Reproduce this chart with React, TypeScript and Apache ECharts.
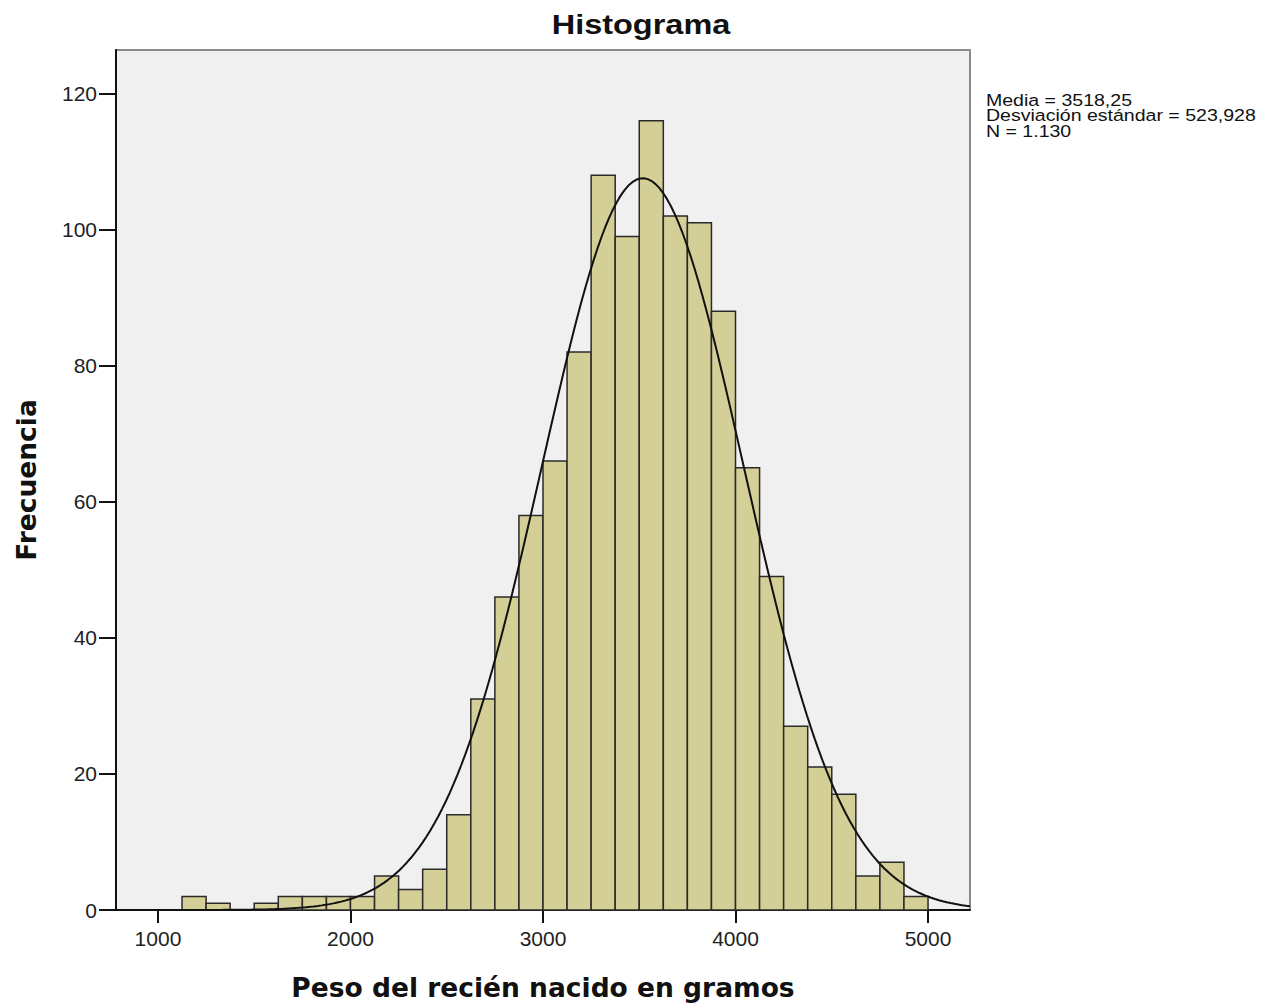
import React, { useEffect, useRef } from "react";
import * as echarts from "echarts";

// Histogram bins (grams) and frequencies
const binStarts = [1125, 1250, 1375, 1500, 1625, 1750, 1875, 2000, 2125, 2250, 2375, 2500, 2625, 2750, 2875, 3000, 3125, 3250, 3375, 3500, 3625, 3750, 3875, 4000, 4125, 4250, 4375, 4500, 4625, 4750, 4875];
const binEnds = [1250, 1375, 1500, 1625, 1750, 1875, 2000, 2125, 2250, 2375, 2500, 2625, 2750, 2875, 3000, 3125, 3250, 3375, 3500, 3625, 3750, 3875, 4000, 4125, 4250, 4375, 4500, 4625, 4750, 4875, 5000];
const counts = [2, 1, 0, 1, 2, 2, 2, 2, 5, 3, 6, 14, 31, 46, 58, 66, 82, 108, 99, 116, 102, 101, 88, 65, 49, 27, 21, 17, 5, 7, 2];

// Summary statistics shown on the chart
const MEAN = 3518.25;
const SD = 523.928;
const N = 1130;
const BIN_WIDTH = 125;

const xTicks = [1000, 2000, 3000, 4000, 5000];
const yTicks = [0, 20, 40, 60, 80, 100, 120];
const X_MIN = 782;
const X_MAX = 5218;
const Y_MAX = 126.4;

const statsLines = ["Media = 3518,25", "Desviación estándar = 523,928", "N = 1.130"];

function normalCurve(): number[][] {
  const pts: number[][] = [];
  const steps = 220;
  for (let i = 0; i <= steps; i++) {
    const x = X_MIN + ((X_MAX - X_MIN) * i) / steps;
    const z = (x - MEAN) / SD;
    const y = (N * BIN_WIDTH) / (SD * Math.sqrt(2 * Math.PI)) * Math.exp(-0.5 * z * z);
    pts.push([x, y]);
  }
  return pts;
}

export default function App() {
  const ref = useRef<HTMLDivElement>(null);
  useEffect(() => {
    if (!ref.current) return;
    const chart = echarts.init(ref.current, undefined, { renderer: "svg" });
    const histData = binStarts
      .map((s, i) => [s, binEnds[i], counts[i]])
      .filter((d) => d[2] > 0);
    const option: any = {
      animation: false,
      backgroundColor: "#ffffff",
      grid: {
        left: 116,
        right: 302,
        top: 50,
        bottom: 94,
        show: true,
        backgroundColor: "#F0F0F0",
        borderColor: "#8a8a8a",
        borderWidth: 2,
      },
      graphic: [
        {
          type: "text",
          x: 641,
          y: 24,
          scaleX: 1.16,
          style: {
            text: "Histograma",
            fontFamily: "Liberation Sans, Arial, sans-serif",
            fontWeight: "bold",
            fontSize: 28,
            fill: "#111",
            align: "center",
            verticalAlign: "middle",
          },
        },
        {
          type: "text",
          x: 986,
          y: 92,
          scaleX: 1.15,
          style: {
            text: statsLines.join("\n"),
            fontFamily: "Liberation Sans, Arial, sans-serif",
            fontSize: 17,
            lineHeight: 15.5,
            fill: "#111",
            align: "left",
            verticalAlign: "top",
          },
        },
      ],
      xAxis: {
        type: "value",
        min: X_MIN,
        max: X_MAX,
        name: "Peso del recién nacido en gramos",
        nameLocation: "middle",
        nameGap: 64,
        nameTextStyle: {
          fontFamily: "DejaVu Sans",
          fontWeight: "bold",
          fontSize: 26.5,
          color: "#111",
        },
        splitLine: { show: false },
        axisLine: { show: true, lineStyle: { color: "#111", width: 2 } },
        axisTick: {
          show: true,
          length: 13,
          lineStyle: { color: "#111", width: 2 },
          customValues: xTicks,
        },
        axisLabel: {
          customValues: xTicks,
          formatter: (v: number) => String(v),
          margin: 18,
          fontFamily: "Liberation Sans, Arial, sans-serif",
          fontSize: 21,
          color: "#222",
        },
      },
      yAxis: {
        type: "value",
        min: 0,
        max: Y_MAX,
        name: "Frecuencia",
        nameLocation: "middle",
        nameGap: 76,
        nameTextStyle: {
          fontFamily: "DejaVu Sans",
          fontWeight: "bold",
          fontSize: 26.5,
          color: "#111",
        },
        splitLine: { show: false },
        axisLine: { show: true, lineStyle: { color: "#111", width: 2 } },
        axisTick: {
          show: true,
          length: 17,
          lineStyle: { color: "#111", width: 2 },
          customValues: yTicks,
        },
        axisLabel: {
          customValues: yTicks,
          formatter: (v: number) => String(v),
          margin: 19,
          fontFamily: "Liberation Sans, Arial, sans-serif",
          fontSize: 21,
          color: "#222",
        },
      },
      series: [
        {
          type: "custom",
          renderItem: (params: any, api: any) => {
            const p0 = api.coord([api.value(0), api.value(2)]);
            const p1 = api.coord([api.value(1), 0]);
            return {
              type: "rect",
              shape: { x: p0[0], y: p0[1], width: p1[0] - p0[0], height: p1[1] - p0[1] },
              style: { fill: "#D3CF97", stroke: "#2a2a2a", lineWidth: 1.5 },
            };
          },
          encode: { x: [0, 1], y: 2 },
          data: histData,
          z: 2,
        },
        {
          type: "line",
          data: normalCurve(),
          showSymbol: false,
          smooth: false,
          lineStyle: { color: "#111", width: 2 },
          z: 3,
          clip: true,
        },
      ],
    };
    chart.setOption(option);
    return () => chart.dispose();
  }, []);
  return (
    <div
      ref={ref}
      style={{ position: "fixed", left: 0, top: 0, width: 1272, height: 1006 }}
    />
  );
}
